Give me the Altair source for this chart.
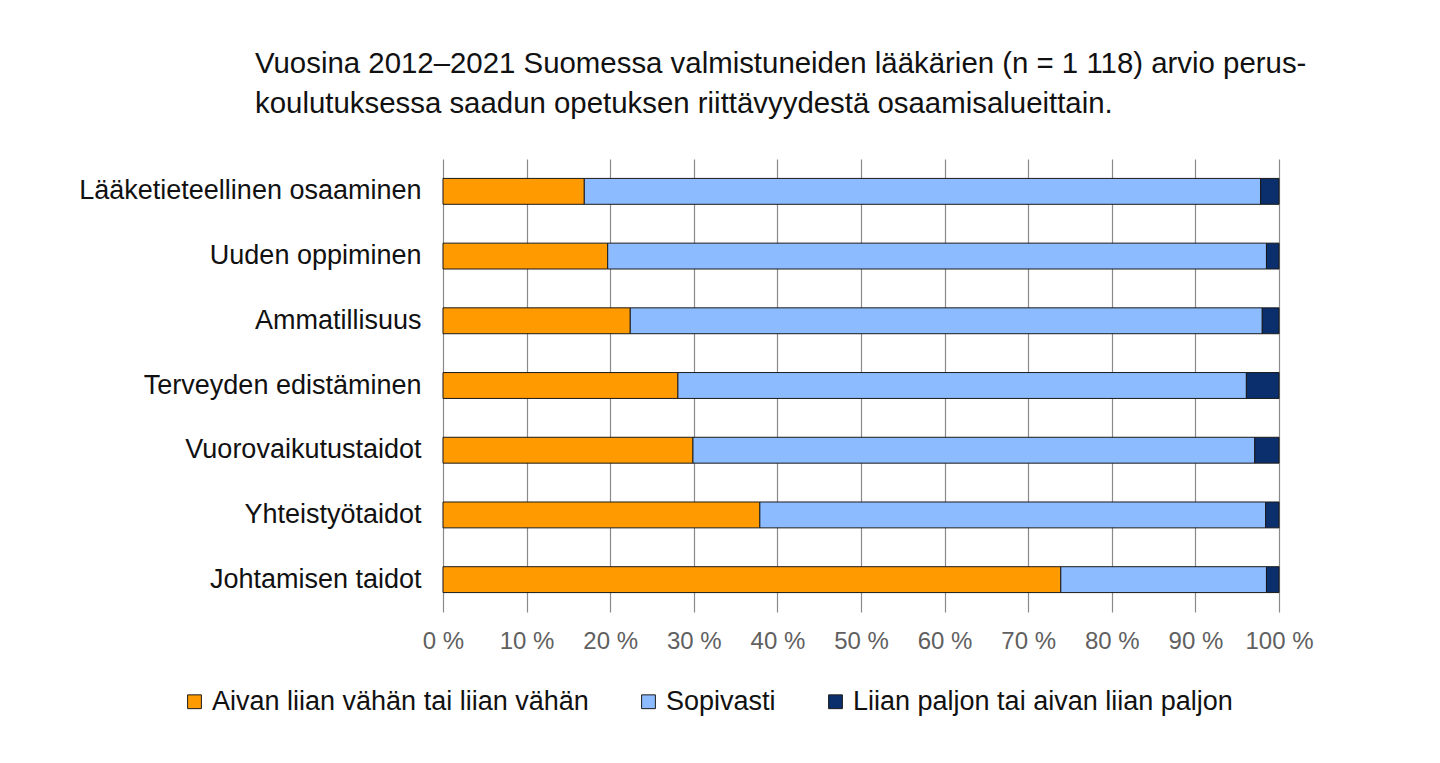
import altair as alt
import pandas as pd

categories = ["Lääketieteellinen osaaminen", "Uuden oppiminen", "Ammatillisuus",
              "Terveyden edistäminen", "Vuorovaikutustaidot", "Yhteistyötaidot",
              "Johtamisen taidot"]
series = ["Aivan liian vähän tai liian vähän", "Sopivasti", "Liian paljon tai aivan liian paljon"]
liian_vahan = [16.9, 19.7, 22.4, 28.1, 29.9, 37.9, 73.9]
sopivasti = [80.9, 78.8, 75.6, 68.0, 67.2, 60.5, 24.6]
liian_paljon = [2.2, 1.5, 2.0, 3.9, 2.9, 1.6, 1.5]
colors = ["#FF9A00", "#8DBBFF", "#0B2F6C"]

rows = []
for i, c in enumerate(categories):
    for j, (s, vals) in enumerate(zip(series, [liian_vahan, sopivasti, liian_paljon])):
        rows.append({"category": c, "series": s, "value": vals[i], "order": j})
df = pd.DataFrame(rows)

FONT = "Liberation Sans"

chart = alt.Chart(df).mark_bar(stroke="#1a1a1a", strokeWidth=1).encode(
    y=alt.Y("category:N", sort=categories,
            scale=alt.Scale(paddingInner=0.6, paddingOuter=0.3),
            axis=alt.Axis(title=None, labelFontSize=27, labelFont=FONT,
                          labelColor="#111111", ticks=False, domain=False,
                          labelPadding=22, grid=False, labelLimit=500)),
    x=alt.X("value:Q", stack="zero",
            scale=alt.Scale(domain=[0, 100], nice=False),
            axis=alt.Axis(title=None, values=list(range(0, 101, 10)),
                          labelExpr="datum.value + ' %'",
                          labelFontSize=24, labelFont=FONT, labelColor="#606060",
                          labelOverlap=False, labelFlush=False, labelBound=False,
                          domain=False, ticks=False, grid=True,
                          gridColor="#8a8a8a", gridWidth=1.2, gridOpacity=1,
                          labelPadding=17)),
    color=alt.Color("series:N",
                    scale=alt.Scale(domain=series, range=colors),
                    legend=alt.Legend(title=None, orient="none", direction="horizontal",
                                      legendX=-262, legendY=529,
                                      labelFontSize=27, labelFont=FONT,
                                      labelColor="#111111",
                                      symbolType="square", symbolSize=190,
                                      symbolStrokeColor="#1a1a1a", symbolStrokeWidth=1,
                                      symbolOpacity=1,
                                      columnPadding=46, labelOffset=4,
                                      labelLimit=600)),
    order=alt.Order("order:Q"),
).properties(
    width=836, height=453,
    title=alt.TitleParams(
        text=["Vuosina 2012–2021 Suomessa valmistuneiden lääkärien (n = 1 118) arvio perus-",
              "koulutuksessa saadun opetuksen riittävyydestä osaamisalueittain."],
        anchor="start", frame="group", dx=-188, offset=40,
        fontSize=29.4, font=FONT, fontWeight="normal", color="#111111",
        lineHeight=40),
    autosize=alt.AutoSizeParams(type="none"),
    padding={"left": 435, "top": 151, "right": 120, "bottom": 140},
).configure_view(stroke=None)

chart.save("out.html", embed_options={"renderer": "svg", "actions": False})
